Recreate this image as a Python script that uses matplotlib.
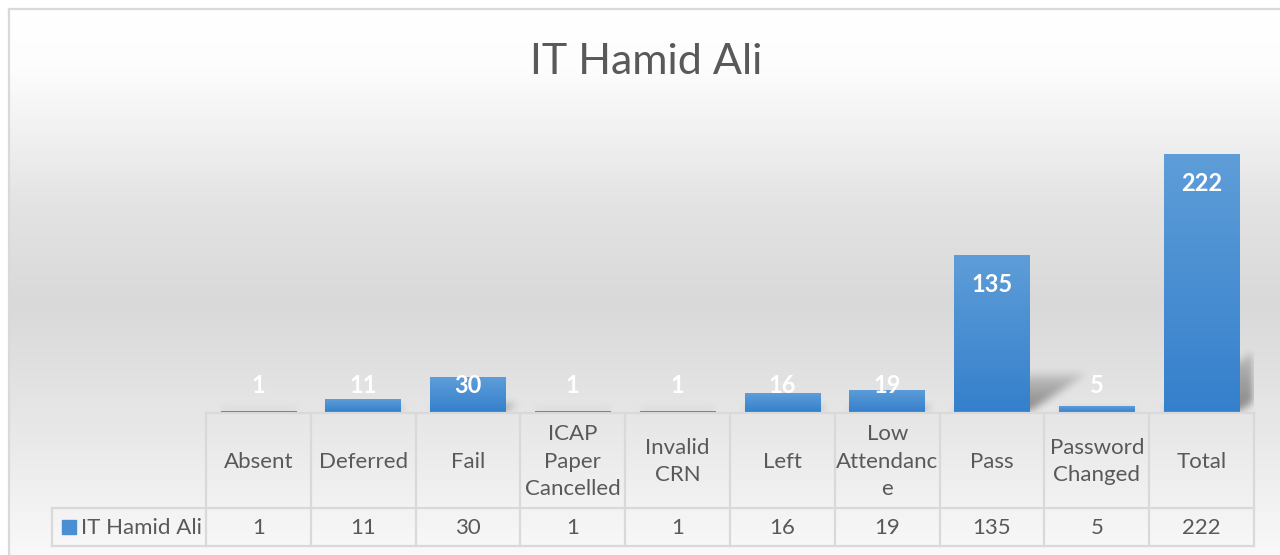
import numpy as np
import matplotlib.pyplot as plt

# data
categories = ['Absent', 'Deferred', 'Fail', 'ICAP\nPaper\nCancelled', 'Invalid\nCRN',
              'Left', 'Low\nAttendanc\ne', 'Pass', 'Password\nChanged', 'Total']
values = [1, 11, 30, 1, 1, 16, 19, 135, 5, 222]
series_name = 'IT Hamid Ali'
title = 'IT Hamid Ali'

plt.rcParams['font.family'] = ['Lato', 'DejaVu Sans']
txt_col = '#595959'
grid_col = '#d9d9d9'

W, H = 1280, 555
fig = plt.figure(figsize=(W / 100, H / 100), dpi=100)

# background in pixel coordinates
bg = fig.add_axes([0, 0, 1, 1], zorder=0)
bg.set_xlim(0, W)
bg.set_ylim(H, 0)
bg.axis('off')
stops_y = [9, 60, 200, 300, 420, 555]
stops_c = [255, 253, 227, 217, 231, 249]
yy = np.arange(H)
shade = np.interp(yy, stops_y, stops_c) / 255.0
grad = np.repeat(shade[:, None], 2, axis=1)
bg.imshow(np.dstack([grad, grad, grad]), extent=(9, W + 10, H, 9), aspect='auto',
          interpolation='bilinear')
bg.plot([9, 9], [9, H], color=grid_col, lw=1.6)
bg.plot([9, W], [9, 9], color=grid_col, lw=1.6)
bg.set_xlim(0, W)
bg.set_ylim(H, 0)

# plot area
pl, pr, pb, pt = 206, 1254, 412, 100
px_per_unit = 258 / 222
ymax = (pb - pt) / px_per_unit
ax = fig.add_axes([pl / W, (H - pb) / H, (pr - pl) / W, (pb - pt) / H], zorder=1)
ax.patch.set_alpha(0)
for s in ax.spines.values():
    s.set_visible(False)
ax.set_xticks([])
ax.set_yticks([])

x = np.arange(len(values))
bw = 0.72

# perspective shadows behind the bars
nx, ny = pr - pl, pb - pt
gx = np.linspace(-0.5, len(values) - 0.5, nx)
gy = np.linspace(0, ymax, ny)
GX, GY = np.meshgrid(gx, gy)
mask = np.zeros_like(GX)
cat_px = (pr - pl) / len(values)
for i, v in enumerate(values):
    top = 0.25 * v
    shift = GY * 1.75 / cat_px
    inside = (GY <= top) & (np.abs(GX - (i + shift)) <= bw / 2)
    fade = np.clip(1 - GY / max(top, 1e-6), 0, 1) ** 0.5
    mask = np.maximum(mask, inside * fade)
k = 9
ker = np.ones(k) / k
for _ in range(2):
    mask = np.apply_along_axis(lambda r: np.convolve(r, ker, mode='same'), 1, mask)
    mask = np.apply_along_axis(lambda c: np.convolve(c, ker, mode='same'), 0, mask)
rgba = np.zeros((ny, nx, 4))
rgba[..., 3] = mask * 0.4
ax.imshow(rgba, extent=(-0.5, len(values) - 0.5, 0, ymax), origin='lower',
          aspect='auto', zorder=1)

bars = ax.bar(x, values, width=bw, color='#4a8fd4', zorder=2)
bar_grad = np.linspace(0, 1, 64)[:, None]
c_top = np.array([0x5e, 0x9d, 0xd8]) / 255
c_bot = np.array([0x35, 0x80, 0xcc]) / 255
bar_img = (c_bot[None, None, :] * (1 - bar_grad[..., None]) +
           c_top[None, None, :] * bar_grad[..., None])
for b in bars:
    x0, w, h = b.get_x(), b.get_width(), b.get_height()
    im = ax.imshow(bar_img, extent=(x0, x0 + w, 0, h), origin='lower',
                   aspect='auto', zorder=3)
    im.set_clip_path(b)

for i, v in enumerate(values):
    ax.text(i, max(v - 25, 22.4), str(v), ha='center', va='center',
            color='white', fontsize=17, fontweight='bold', zorder=4)

ax.set_xlim(-0.5, len(values) - 0.5)
ax.set_ylim(0, ymax)

# title
fig.text(646 / W, 1 - 62 / H, title, ha='center', va='center', fontsize=31,
         color=txt_col)

# data table in pixel coordinates
tb = fig.add_axes([0, 0, 1, 1], zorder=2)
tb.patch.set_alpha(0)
tb.axis('off')
edges = np.linspace(pl, pr, len(values) + 1)
r0, r1, r2 = 413, 508, 546
lab_left = 52
tb.plot([pl, pr], [r0, r0], color=grid_col, lw=1.6)
tb.plot([lab_left, pr], [r1, r1], color=grid_col, lw=1.6)
tb.plot([lab_left, pr], [r2, r2], color=grid_col, lw=1.6)
tb.plot([lab_left, lab_left], [r1, r2], color=grid_col, lw=1.6)
for e in edges:
    tb.plot([e, e], [r0, r2], color=grid_col, lw=1.6)
for i, (c, v) in enumerate(zip(categories, values)):
    cx = (edges[i] + edges[i + 1]) / 2
    tb.text(cx, (r0 + r1) / 2 + 1, c, ha='center', va='center', fontsize=16,
            color=txt_col, linespacing=1.45)
    tb.text(cx, (r1 + r2) / 2 + 1.5, str(v), ha='center', va='center', fontsize=16,
            color=txt_col)
tb.add_patch(plt.Rectangle((62, 520), 14, 14, color='#4a8fd4'))
tb.text(81, (r1 + r2) / 2 + 1.5, series_name, ha='left', va='center', fontsize=16,
        color=txt_col)
tb.set_xlim(0, W)
tb.set_ylim(H, 0)

fig.savefig('out.png', dpi=100)
